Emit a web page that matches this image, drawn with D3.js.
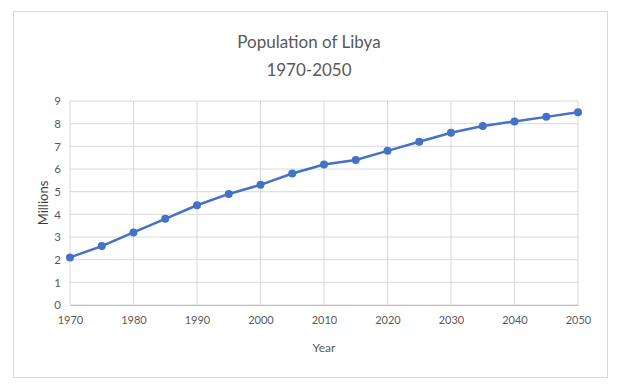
<!DOCTYPE html>
<html><head><meta charset="utf-8">
<script src="https://cdn.jsdelivr.net/npm/d3@7"></script>
<style>body{margin:0;background:#fff;} text{font-family:Lato, "Open Sans", sans-serif;}</style>
</head><body><svg id="c" width="617" height="390"></svg>
<script>
const years = [1970,1975,1980,1985,1990,1995,2000,2005,2010,2015,2020,2025,2030,2035,2040,2045,2050];
const population = [2.1,2.6,3.2,3.8,4.4,4.9,5.3,5.8,6.2,6.4,6.8,7.2,7.6,7.9,8.1,8.3,8.5];
const xTicks = [1970,1980,1990,2000,2010,2020,2030,2040,2050];
const yTicks = [0,1,2,3,4,5,6,7,8,9];
const titleLines = ["Population of Libya","1970-2050"];

const svg = d3.select("#c");
svg.append("rect").attr("x",13.5).attr("y",11.5).attr("width",594).attr("height",366)
  .attr("fill","#fff").attr("stroke","#d9d9d9");

const x = d3.scaleLinear().domain([1970,2050]).range([70,578]);
const y = d3.scaleLinear().domain([0,9]).range([305,101]);

svg.append("g").selectAll("line").data(yTicks).join("line")
  .attr("x1",70).attr("x2",578).attr("y1",d=>y(d)).attr("y2",d=>y(d))
  .attr("stroke","#d9d9d9").attr("stroke-width",1);
svg.append("g").selectAll("line").data(xTicks).join("line")
  .attr("x1",d=>x(d)).attr("x2",d=>x(d)).attr("y1",101).attr("y2",305)
  .attr("stroke","#d9d9d9").attr("stroke-width",1);

const xa = svg.append("g").attr("transform","translate(0,305)")
  .call(d3.axisBottom(x).tickValues(xTicks).tickFormat(d3.format("d")).tickSize(0).tickPadding(11));
xa.select(".domain").attr("stroke","#bfbfbf");
xa.selectAll("text").attr("fill","#595959").style("font-size","11px");

const ya = svg.append("g").attr("transform","translate(70,0)")
  .call(d3.axisLeft(y).tickValues(yTicks).tickSize(0).tickPadding(9));
ya.select(".domain").remove();
ya.selectAll("text").attr("fill","#595959").style("font-size","11.5px");

const line = d3.line().x((d,i)=>x(years[i])).y(d=>y(d));
svg.append("path").datum(population).attr("d",line).attr("fill","none")
  .attr("stroke","#4472c4").attr("stroke-width",2.5);
svg.append("g").selectAll("circle").data(population).join("circle")
  .attr("cx",(d,i)=>x(years[i])).attr("cy",d=>y(d)).attr("r",4).attr("fill","#4472c4");

svg.append("g").selectAll("text").data(titleLines).join("text")
  .attr("x",309).attr("y",(d,i)=>48+i*28).attr("text-anchor","middle")
  .attr("fill","#595959").style("font-size","17px").text(d=>d);

svg.append("text").attr("x",324).attr("y",352).attr("text-anchor","middle")
  .attr("fill","#595959").style("font-size","12px").text("Year");
svg.append("text").attr("transform","translate(48,203) rotate(-90)").attr("text-anchor","middle")
  .attr("fill","#404040").style("font-size","13px").text("Millions");
</script></body></html>
